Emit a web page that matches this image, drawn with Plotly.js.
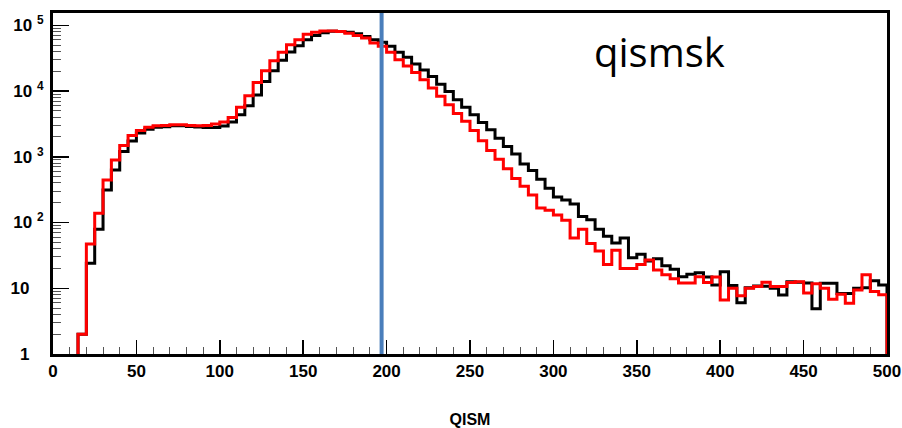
<!DOCTYPE html>
<html>
<head>
<meta charset="utf-8">
<script src="https://cdn.plot.ly/plotly-3.0.1.min.js"></script>
<style>
  html, body { margin: 0; padding: 0; background: #fff; }
  #chart { width: 902px; height: 428px; }
</style>
</head>
<body>
<div id="chart"></div>
<script>
// Histogram binning: 100 bins of width 5 from 0 to 500
const binStart = 0;
const binWidth = 5;

// Black histogram (counts per bin, bins 0-5 ... 495-500)
const blackCounts = [
  0, 0, 0, 2, 24, 79, 313, 630, 1200, 1740,
  2290, 2630, 2820, 2870, 2960, 2960, 2900, 2840, 2800, 2790,
  2950, 3390, 4350, 5960, 8700, 13960, 20400, 29500, 39400, 48900,
  60300, 70000, 76700, 81300, 80400, 78500, 74100, 67600, 60300, 55000,
  47900, 38900, 32700, 25700, 20900, 16600, 12700, 9800, 7400, 5690,
  4370, 3310, 2570, 1910, 1430, 1100, 776, 617, 457, 331,
  245, 221, 191, 123, 110, 79, 62, 49, 58, 29,
  33, 26, 28, 22, 19.5, 15, 16.4, 17.2, 14.8, 11.2,
  17.8, 11, 6, 10.2, 10.8, 10.7, 10, 7.9, 12.6, 12.3,
  12, 4.9, 11.9, 11.9, 8.3, 8.3, 10, 10.2, 13, 11.2
];

// Red histogram (counts per bin)
const redCounts = [
  0, 0, 0, 2, 47, 138, 445, 895, 1480, 2100,
  2500, 2820, 2960, 2980, 3060, 3060, 2990, 2960, 2980, 3160,
  3370, 3970, 5690, 8470, 13500, 20400, 28800, 39000, 50600, 60400,
  73300, 78500, 82200, 82200, 80400, 75900, 70000, 63800, 53700, 47900,
  38900, 29900, 24000, 19100, 14800, 11100, 8300, 6170, 4570, 3470,
  2500, 1760, 1250, 920, 660, 468, 355, 263, 166, 154,
  130, 108, 58, 79, 48, 37, 23, 38, 20, 20,
  23, 27, 19, 16, 14, 12, 12, 15, 12.2, 14.8,
  6.6, 10, 7.7, 10, 10.6, 12.3, 10.6, 10.6, 12.2, 12.6,
  8.5, 11.7, 10, 6.8, 8.1, 5.9, 9.4, 16, 8.9, 8
];

// Vertical cut line position
const cutValue = 197;

// Axis ticks
const xTickVals = [0, 50, 100, 150, 200, 250, 300, 350, 400, 450, 500];
const yTickVals = [1, 10, 100, 1000, 10000, 100000];
const yTickText = ['1\u00a0\u00a0\u00a0', '10\u00a0\u00a0\u00a0', '10 <sup>2</sup>', '10 <sup>3</sup>', '10 <sup>4</sup>', '10 <sup>5</sup>'];
const yMinorVals = [];
for (let d = 0; d <= 4; d++) for (let m = 2; m <= 9; m++) yMinorVals.push(m * Math.pow(10, d));

const labelText = 'qismsk';
const xTitle = 'QISM';

function stepPath(counts) {
  const floor = 0.01;
  const xs = [], ys = [];
  counts.forEach((c, i) => {
    xs.push(binStart + i * binWidth);
    ys.push(c > 0 ? c : floor);
  });
  xs.push(binStart + counts.length * binWidth);
  ys.push(floor);
  return { xs, ys };
}

const b = stepPath(blackCounts);
const r = stepPath(redCounts);

const yRange = [0, 5.187];
const tickFont = { family: 'Liberation Sans, Arial, sans-serif', size: 17, color: '#000', weight: 'bold' };

const traces = [
  { x: b.xs, y: b.ys, type: 'scatter', mode: 'lines', line: { shape: 'hv', color: '#000000', width: 3 }, hoverinfo: 'skip', showlegend: false },
  { x: r.xs, y: r.ys, type: 'scatter', mode: 'lines', line: { shape: 'hv', color: '#ff0000', width: 3 }, hoverinfo: 'skip', showlegend: false },
  { x: [0], y: [1], yaxis: 'y2', type: 'scatter', mode: 'markers', marker: { opacity: 0 }, hoverinfo: 'skip', showlegend: false }
];

const layout = {
  width: 902, height: 428,
  margin: { l: 53, r: 15, t: 13, b: 74 },
  paper_bgcolor: '#ffffff',
  plot_bgcolor: '#ffffff',
  showlegend: false,
  xaxis: {
    range: [0, 500],
    showgrid: false, zeroline: false,
    showline: true, mirror: true, linecolor: '#000', linewidth: 3,
    ticks: 'inside', ticklen: 14, tickwidth: 1.5, tickcolor: '#000',
    tickvals: xTickVals, ticktext: xTickVals.map(String),
    tickfont: tickFont, ticklabelstandoff: 0,
    minor: { ticks: 'inside', ticklen: 7, dtick: 10, tickwidth: 1, tickcolor: '#555', showgrid: false },
    title: { text: xTitle, font: { family: 'Liberation Sans, Arial, sans-serif', size: 16, color: '#000', weight: 'bold' }, standoff: 45 }
  },
  yaxis: {
    type: 'log', range: yRange,
    showgrid: false, zeroline: false,
    showline: true, mirror: true, linecolor: '#000', linewidth: 3,
    ticks: 'inside', ticklen: 16, tickwidth: 1.5, tickcolor: '#000',
    tickvals: yTickVals, ticktext: yTickText,
    tickfont: tickFont, ticklabelstandoff: 3
  },
  yaxis2: {
    type: 'log', range: yRange, overlaying: 'y', side: 'left', anchor: 'x',
    showgrid: false, zeroline: false, showline: false, showticklabels: false,
    ticks: 'inside', ticklen: 8, tickwidth: 1, tickcolor: '#555',
    tickvals: yMinorVals
  },
  shapes: [
    { type: 'line', xref: 'x', yref: 'paper', x0: cutValue, x1: cutValue, y0: 0, y1: 1, line: { color: '#4a7ebb', width: 4 } }
  ],
  annotations: [
    { text: labelText, xref: 'paper', yref: 'paper', x: 0.646, y: 0.886, xanchor: 'left', yanchor: 'middle', showarrow: false,
      font: { family: 'Open Sans, sans-serif', size: 40, color: '#000' } }
  ]
};

Plotly.newPlot('chart', traces, layout, { staticPlot: true, displayModeBar: false });
</script>
</body>
</html>
